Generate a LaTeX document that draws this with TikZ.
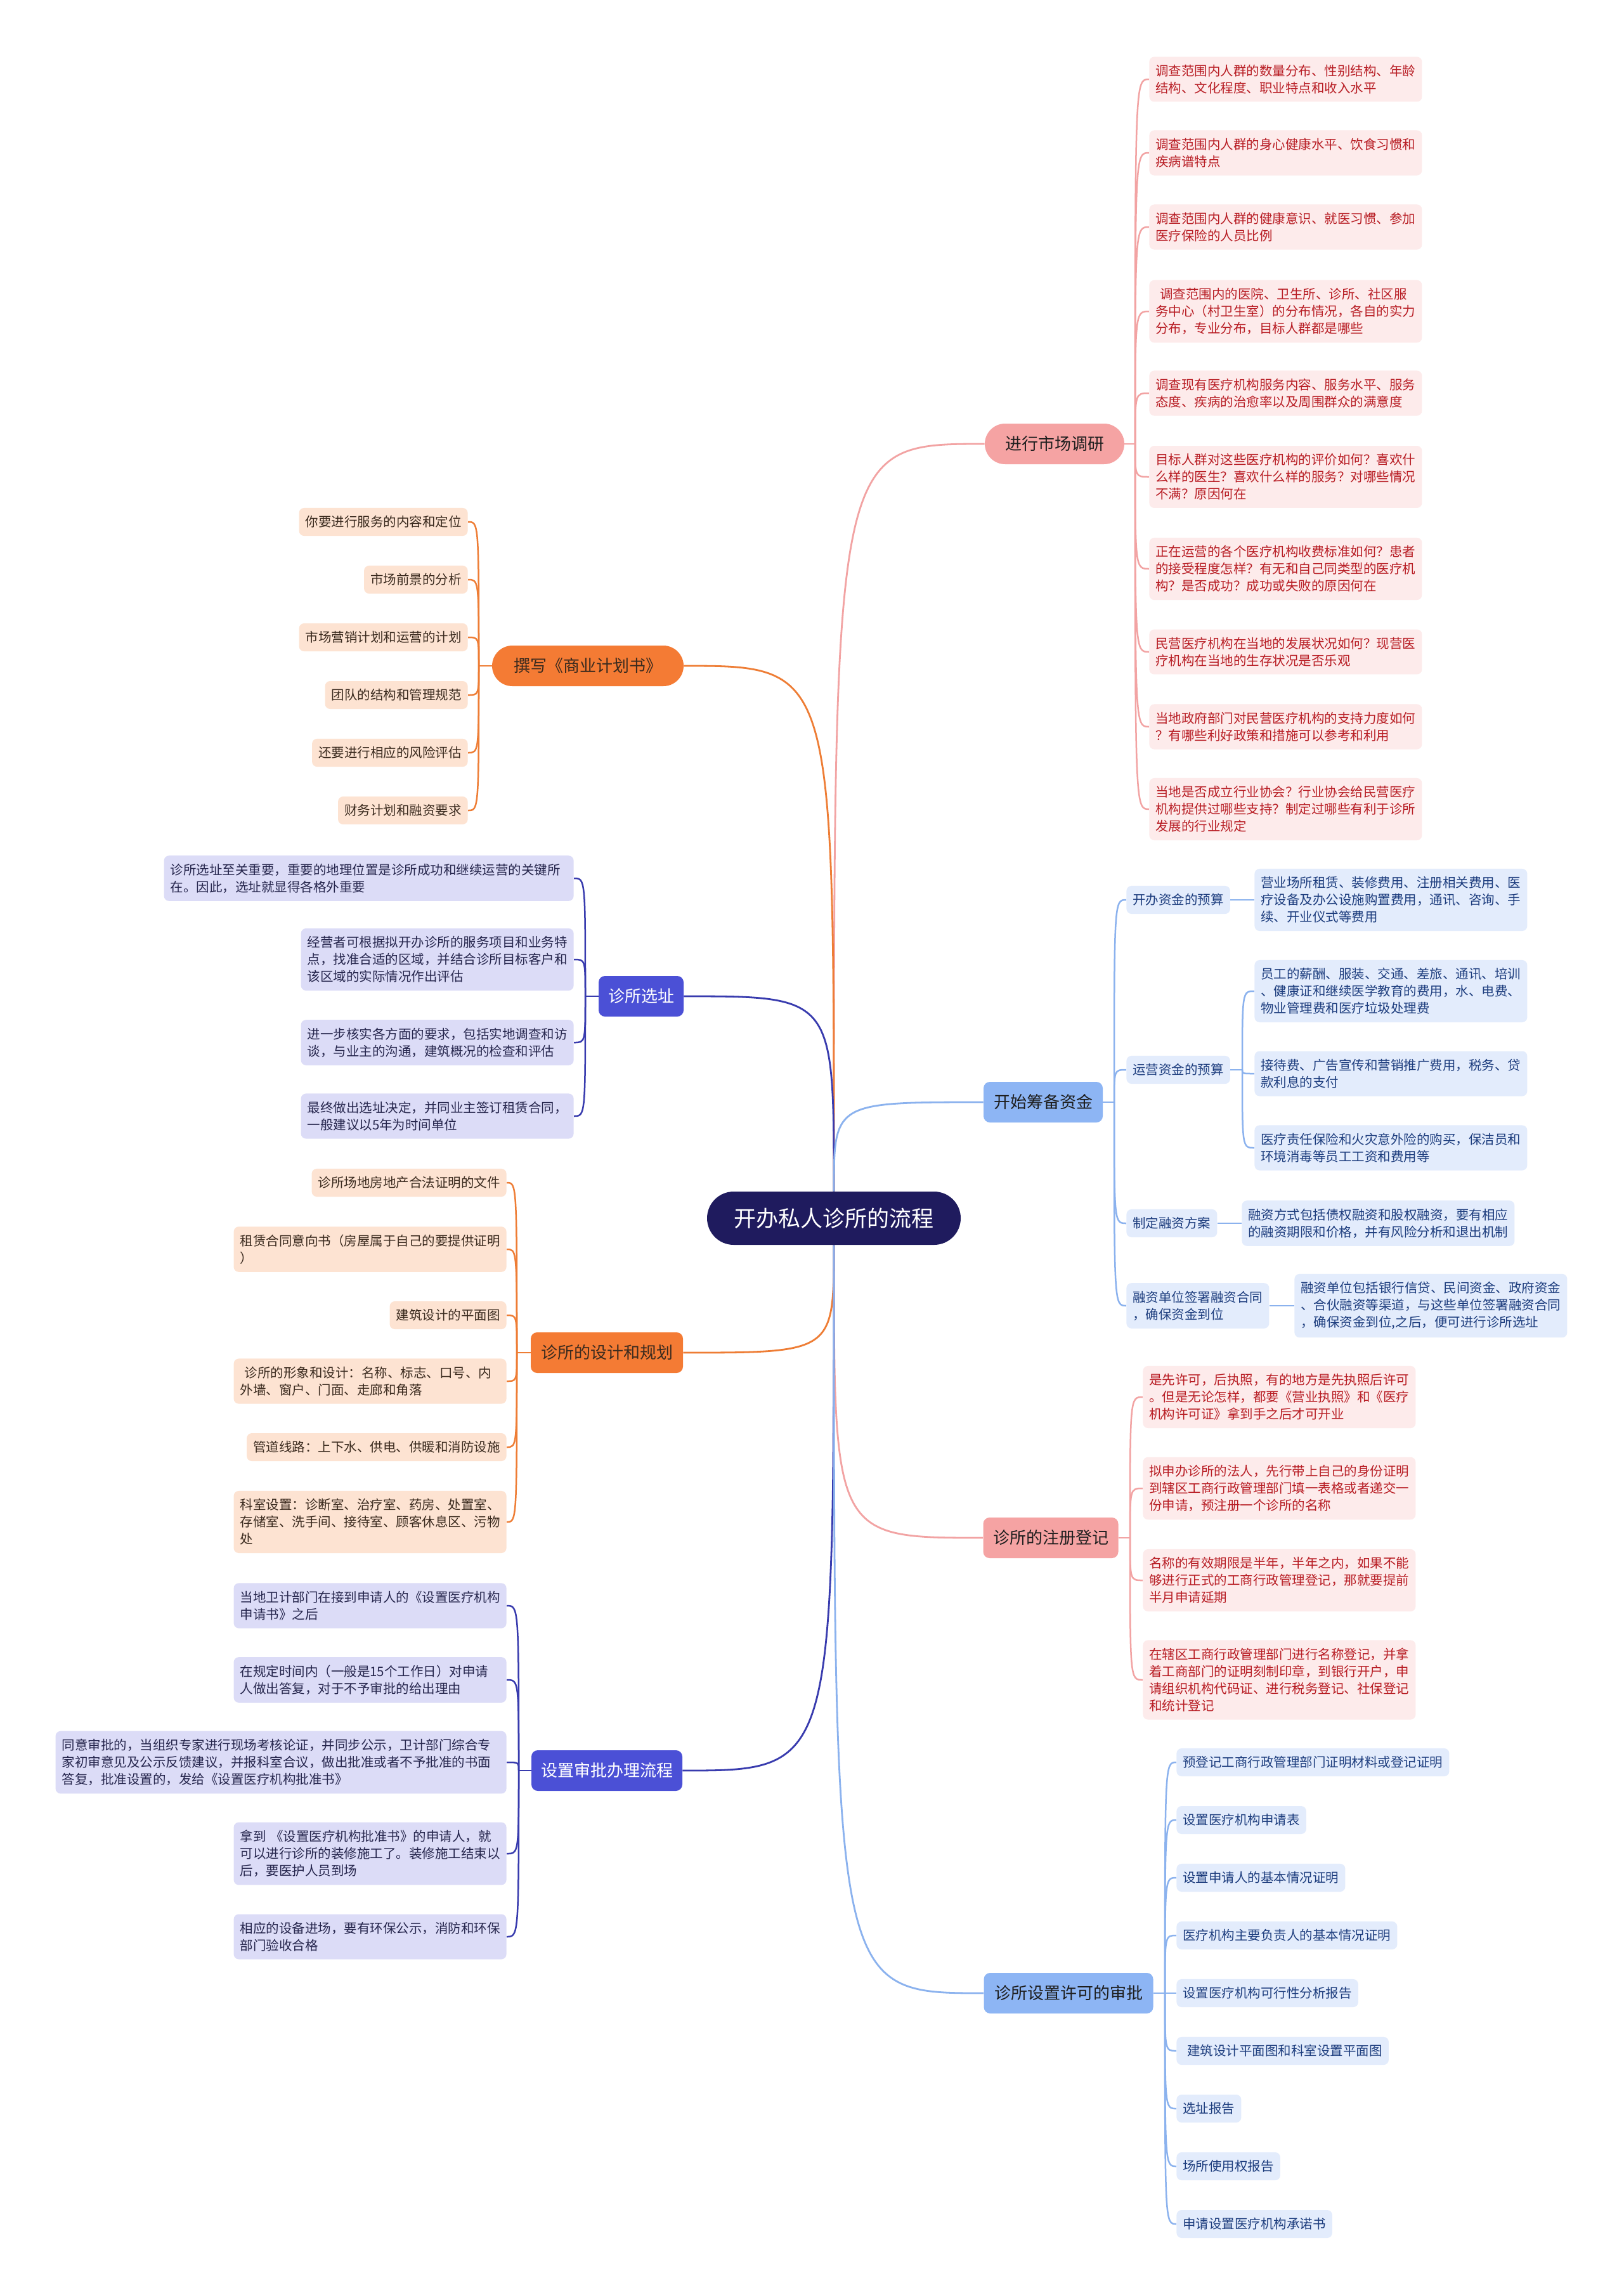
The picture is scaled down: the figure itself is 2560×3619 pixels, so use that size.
\documentclass[tikz,border=0pt]{standalone}
\usepackage{fontspec}
\setmainfont{Noto Sans CJK SC}
\usetikzlibrary{backgrounds}
\definecolor{rootc}{HTML}{1F1B5E}
\definecolor{redpl}{HTML}{F5A3A3}
\definecolor{redlf}{HTML}{FDEBEB}
\definecolor{redtx}{HTML}{B81D24}
\definecolor{rede}{HTML}{F2A3A3}
\definecolor{orpl}{HTML}{F47B34}
\definecolor{orlf}{HTML}{FDE3D2}
\definecolor{ortx}{HTML}{3A2A1E}
\definecolor{ore}{HTML}{EE7D35}
\definecolor{vipl}{HTML}{4B50D6}
\definecolor{vilf}{HTML}{DCDCF7}
\definecolor{vitx}{HTML}{26264D}
\definecolor{vie}{HTML}{383BAE}
\definecolor{blpl}{HTML}{8DB5F4}
\definecolor{bllf}{HTML}{E3ECFC}
\definecolor{bltx}{HTML}{1D3D7E}
\definecolor{ble}{HTML}{8BB2EE}
\definecolor{pltx}{HTML}{1E1E1E}
\newcommand\mmlink[3]{\draw[#1] (#2) .. controls (#2 |- #3) .. (#3);}
\begin{document}
\begin{tikzpicture}[x=0.5pt,y=-0.5pt,
 rootn/.style={fill=rootc, text=white, rounded corners=21pt, minimum width=200pt, minimum height=42pt, inner sep=0pt, font=\fontsize{17.5pt}{22pt}\selectfont},
 br/.style={minimum height=32pt, inner sep=0pt, font=\fontsize{13pt}{16pt}\selectfont},
 pill/.style={br, rounded corners=16pt},
 rbox/.style={br, rounded corners=5pt},
 leaf/.style={font=\fontsize{10.25pt}{13.5pt}\selectfont, inner xsep=5pt, inner ysep=6.25pt, rounded corners=4pt, align=left},
 redleaf/.style={leaf, fill=redlf, text=redtx},
 orleaf/.style={leaf, fill=orlf, text=ortx},
 vileaf/.style={leaf, fill=vilf, text=vitx},
 blleaf/.style={leaf, fill=bllf, text=bltx},
 redE/.style={draw=rede, line width=1.25pt},
 orE/.style={draw=ore, line width=1.25pt},
 viE/.style={draw=vie, line width=1.25pt},
 blE/.style={draw=ble, line width=1.25pt},
 redR/.style={draw=rede, line width=1.4pt},
 orR/.style={draw=ore, line width=1.4pt},
 viR/.style={draw=vie, line width=1.4pt},
 blR/.style={draw=ble, line width=1.4pt}
]
\useasboundingbox (0,0) rectangle (2560,3619);

% root
\node[rootn] (root) at (1315,1921) {开办私人诊所的流程};

% ---------- market research ----------
\node[pill, fill=redpl, text=pltx, minimum width=110pt] (mr) at (1663,700) {进行市场调研};
\coordinate (mrT) at (1790,700);
\node[redleaf, text width=205pt, anchor=west] (m1) at (1812,125) {调查范围内人群的数量分布、性别结构、年龄\\结构、文化程度、职业特点和收入水平};
\node[redleaf, text width=205pt, anchor=west] (m2) at (1812,241) {调查范围内人群的身心健康水平、饮食习惯和\\疾病谱特点};
\node[redleaf, text width=205pt, anchor=west] (m3) at (1812,358) {调查范围内人群的健康意识、就医习惯、参加\\医疗保险的人员比例};
\node[redleaf, text width=205pt, anchor=west] (m4) at (1812,491) {\hspace*{3.5pt}调查范围内的医院、卫生所、诊所、社区服\\务中心（村卫生室）的分布情况，各自的实力\\分布，专业分布，目标人群都是哪些};
\node[redleaf, text width=205pt, anchor=west] (m5) at (1812,620) {调查现有医疗机构服务内容、服务水平、服务\\态度、疾病的治愈率以及周围群众的满意度};
\node[redleaf, text width=205pt, anchor=west] (m6) at (1812,752) {目标人群对这些医疗机构的评价如何？喜欢什\\么样的医生？喜欢什么样的服务？对哪些情况\\不满？原因何在};
\node[redleaf, text width=205pt, anchor=west] (m7) at (1812,897) {正在运营的各个医疗机构收费标准如何？患者\\的接受程度怎样？有无和自己同类型的医疗机\\构？是否成功？成功或失败的原因何在};
\node[redleaf, text width=205pt, anchor=west] (m8) at (1812,1028) {民营医疗机构在当地的发展状况如何？现营医\\疗机构在当地的生存状况是否乐观};
\node[redleaf, text width=205pt, anchor=west] (m9) at (1812,1146) {当地政府部门对民营医疗机构的支持力度如何\\？有哪些利好政策和措施可以参考和利用};
\node[redleaf, text width=205pt, anchor=west] (m10) at (1812,1276) {当地是否成立行业协会？行业协会给民营医疗\\机构提供过哪些支持？制定过哪些有利于诊所\\发展的行业规定};

% ---------- business plan ----------
\node[pill, fill=orpl, text=ortx, minimum width=151pt] (bp) at (927,1050) {撰写《商业计划书》};
\coordinate (bpT) at (755,1050);
\node[orleaf, anchor=east] (b1) at (738,823) {你要进行服务的内容和定位};
\node[orleaf, anchor=east] (b2) at (738,914) {市场前景的分析};
\node[orleaf, anchor=east] (b3) at (738,1005) {市场营销计划和运营的计划};
\node[orleaf, anchor=east] (b4) at (738,1096) {团队的结构和管理规范};
\node[orleaf, anchor=east] (b5) at (738,1187) {还要进行相应的风险评估};
\node[orleaf, anchor=east] (b6) at (738,1278) {财务计划和融资要求};

% ---------- site selection ----------
\node[rbox, fill=vipl, text=white, minimum width=67pt] (xz) at (1011,1571) {诊所选址};
\coordinate (xzT) at (923,1571);
\node[vileaf, text width=313pt, anchor=east] (x1) at (905,1385) {诊所选址至关重要，重要的地理位置是诊所成功和继续运营的关键所\\在。因此，选址就显得各格外重要};
\node[vileaf, text width=205pt, anchor=east] (x2) at (905,1513) {经营者可根据拟开办诊所的服务项目和业务特\\点，找准合适的区域，并结合诊所目标客户和\\该区域的实际情况作出评估};
\node[vileaf, text width=205pt, anchor=east] (x3) at (905,1644) {进一步核实各方面的要求，包括实地调查和访\\谈，与业主的沟通，建筑概况的检查和评估};
\node[vileaf, text width=205pt, anchor=east] (x4) at (905,1760) {最终做出选址决定，并同业主签订租赁合同，\\一般建议以5年为时间单位};

% ---------- funds ----------
\node[rbox, fill=blpl, text=pltx, minimum width=94pt] (zj) at (1645,1738) {开始筹备资金};
\coordinate (zjT) at (1757,1738);
\node[blleaf, anchor=west] (za) at (1776,1419) {开办资金的预算};
\node[blleaf, anchor=west] (zb) at (1776,1687) {运营资金的预算};
\node[blleaf, anchor=west] (zc) at (1776,1929) {制定融资方案};
\node[blleaf, anchor=west] (zd) at (1776,2059) {融资单位签署融资合同\\，确保资金到位};
\coordinate (zbT) at (1959,1687);
\node[blleaf, text width=205pt, anchor=west] (za1) at (1978,1419) {营业场所租赁、装修费用、注册相关费用、医\\疗设备及办公设施购置费用，通讯、咨询、手\\续、开业仪式等费用};
\node[blleaf, text width=205pt, anchor=west] (zb1) at (1978,1563) {员工的薪酬、服装、交通、差旅、通讯、培训\\、健康证和继续医学教育的费用，水、电费、\\物业管理费和医疗垃圾处理费};
\node[blleaf, text width=205pt, anchor=west] (zb2) at (1978,1693) {接待费、广告宣传和营销推广费用，税务、贷\\款利息的支付};
\node[blleaf, text width=205pt, anchor=west] (zb3) at (1978,1810) {医疗责任保险和火灾意外险的购买，保洁员和\\环境消毒等员工工资和费用等};
\node[blleaf, text width=205pt, anchor=west] (zc1) at (1958,1929) {融资方式包括债权融资和股权融资，要有相应\\的融资期限和价格，并有风险分析和退出机制};
\node[blleaf, text width=205pt, anchor=west] (zd1) at (2041,2059) {融资单位包括银行信贷、民间资金、政府资金\\、合伙融资等渠道，与这些单位签署融资合同\\，确保资金到位,之后，便可进行诊所选址};

% ---------- design ----------
\node[rbox, fill=orpl, text=ortx, minimum width=120pt] (sj) at (957,2133) {诊所的设计和规划};
\coordinate (sjT) at (815,2133);
\node[orleaf, anchor=east] (s1) at (799,1865) {诊所场地房地产合法证明的文件};
\node[orleaf, text width=205pt, anchor=east] (s2) at (799,1970) {租赁合同意向书（房屋属于自己的要提供证明\\）};
\node[orleaf, anchor=east] (s3) at (799,2074) {建筑设计的平面图};
\node[orleaf, text width=205pt, anchor=east] (s4) at (799,2178) {\hspace*{3.5pt}诊所的形象和设计：名称、标志、口号、内\\外墙、窗户、门面、走廊和角落};
\node[orleaf, anchor=east] (s5) at (799,2282) {管道线路：上下水、供电、供暖和消防设施};
\node[orleaf, text width=205pt, anchor=east] (s6) at (799,2400) {科室设置：诊断室、治疗室、药房、处置室、\\存储室、洗手间、接待室、顾客休息区、污物\\处};

% ---------- registration ----------
\node[rbox, fill=redpl, text=pltx, minimum width=106.5pt] (reg) at (1657,2425) {诊所的注册登记};
\coordinate (regT) at (1782,2425);
\node[redleaf, text width=205pt, anchor=west] (r1) at (1802,2203) {是先许可，后执照，有的地方是先执照后许可\\。但是无论怎样，都要《营业执照》和《医疗\\机构许可证》拿到手之后才可开业};
\node[redleaf, text width=205pt, anchor=west] (r2) at (1802,2347) {拟申办诊所的法人，先行带上自己的身份证明\\到辖区工商行政管理部门填一表格或者递交一\\份申请，预注册一个诊所的名称};
\node[redleaf, text width=205pt, anchor=west] (r3) at (1802,2492) {名称的有效期限是半年，半年之内，如果不能\\够进行正式的工商行政管理登记，那就要提前\\半月申请延期};
\node[redleaf, text width=205pt, anchor=west] (r4) at (1802,2649) {在辖区工商行政管理部门进行名称登记，并拿\\着工商部门的证明刻制印章，到银行开户，申\\请组织机构代码证、进行税务登记、社保登记\\和统计登记};

% ---------- approval process ----------
\node[rbox, fill=vipl, text=white, minimum width=119pt] (sp) at (957,2792) {设置审批办理流程};
\coordinate (spT) at (818,2792);
\node[vileaf, text width=205pt, anchor=east] (p1) at (799,2532) {当地卫计部门在接到申请人的《设置医疗机构\\申请书》之后};
\node[vileaf, text width=205pt, anchor=east] (p2) at (799,2649) {在规定时间内（一般是15个工作日）对申请\\人做出答复，对于不予审批的给出理由};
\node[vileaf, text width=345.5pt, anchor=east] (p3) at (799,2779) {同意审批的，当组织专家进行现场考核论证，并同步公示，卫计部门综合专\\家初审意见及公示反馈建议，并报科室合议，做出批准或者不予批准的书面\\答复，批准设置的，发给《设置医疗机构批准书》};
\node[vileaf, text width=205pt, anchor=east] (p4) at (799,2923) {拿到 《设置医疗机构批准书》的申请人，就\\可以进行诊所的装修施工了。装修施工结束以\\后，要医护人员到场};
\node[vileaf, text width=205pt, anchor=east] (p5) at (799,3054) {相应的设备进场，要有环保公示，消防和环保\\部门验收合格};

% ---------- permit ----------
\node[rbox, fill=blpl, text=pltx, minimum width=133.5pt] (xk) at (1685,3143) {诊所设置许可的审批};
\coordinate (xkT) at (1837,3143);
\node[blleaf, anchor=west] (k1) at (1855,2779) {预登记工商行政管理部门证明材料或登记证明};
\node[blleaf, anchor=west] (k2) at (1855,2870) {设置医疗机构申请表};
\node[blleaf, anchor=west] (k3) at (1855,2961) {设置申请人的基本情况证明};
\node[blleaf, anchor=west] (k4) at (1855,3052) {医疗机构主要负责人的基本情况证明};
\node[blleaf, anchor=west] (k5) at (1855,3143) {设置医疗机构可行性分析报告};
\node[blleaf, anchor=west] (k6) at (1855,3234) {\hspace*{3.5pt}建筑设计平面图和科室设置平面图};
\node[blleaf, anchor=west] (k7) at (1855,3325) {选址报告};
\node[blleaf, anchor=west] (k8) at (1855,3416) {场所使用权报告};
\node[blleaf, anchor=west] (k9) at (1855,3507) {申请设置医疗机构承诺书};

\begin{pgfonlayer}{background}
\fill[white] (0,0) rectangle (2560,3619);
% root edges
\draw[redR] (root.north) .. controls (root.north |- mr.west) .. (mr.west);
\draw[orR] (root.north) .. controls (root.north |- bp.east) .. (bp.east);
\draw[viR] (root.north) .. controls (root.north |- xz.east) .. (xz.east);
\draw[blR] (root.north) .. controls (root.north |- zj.west) .. (zj.west);
\draw[orR] (root.south) .. controls (root.south |- sj.east) .. (sj.east);
\draw[redR] (root.south) .. controls (root.south |- reg.west) .. (reg.west);
\draw[viR] (root.south) .. controls (root.south |- sp.east) .. (sp.east);
\draw[blR] (root.south) .. controls (root.south |- xk.west) .. (xk.west);
% market research
\draw[redE] (mr.east) -- (mrT);
\foreach \i in {1,...,10} {\mmlink{redE}{mrT}{m\i.west}}
% business plan
\draw[orE] (bp.west) -- (bpT);
\foreach \i in {1,...,6} {\mmlink{orE}{bpT}{b\i.east}}
% site
\draw[viE] (xz.west) -- (xzT);
\foreach \i in {1,...,4} {\mmlink{viE}{xzT}{x\i.east}}
% funds
\draw[blE] (zj.east) -- (zjT);
\foreach \n in {za,zb,zc,zd} {\mmlink{blE}{zjT}{\n.west}}
\draw[blE] (za.east) -- (za1.west);
\draw[blE] (zb.east) -- (zbT);
\foreach \i in {1,2,3} {\mmlink{blE}{zbT}{zb\i.west}}
\draw[blE] (zc.east) -- (zc1.west);
\draw[blE] (zd.east) -- (zd1.west);
% design
\draw[orE] (sj.west) -- (sjT);
\foreach \i in {1,...,6} {\mmlink{orE}{sjT}{s\i.east}}
% registration
\draw[redE] (reg.east) -- (regT);
\foreach \i in {1,...,4} {\mmlink{redE}{regT}{r\i.west}}
% approval
\draw[viE] (sp.west) -- (spT);
\foreach \i in {1,...,5} {\mmlink{viE}{spT}{p\i.east}}
% permit
\draw[blE] (xk.east) -- (xkT);
\foreach \i in {1,...,9} {\mmlink{blE}{xkT}{k\i.west}}
\end{pgfonlayer}
\end{tikzpicture}
\end{document}
